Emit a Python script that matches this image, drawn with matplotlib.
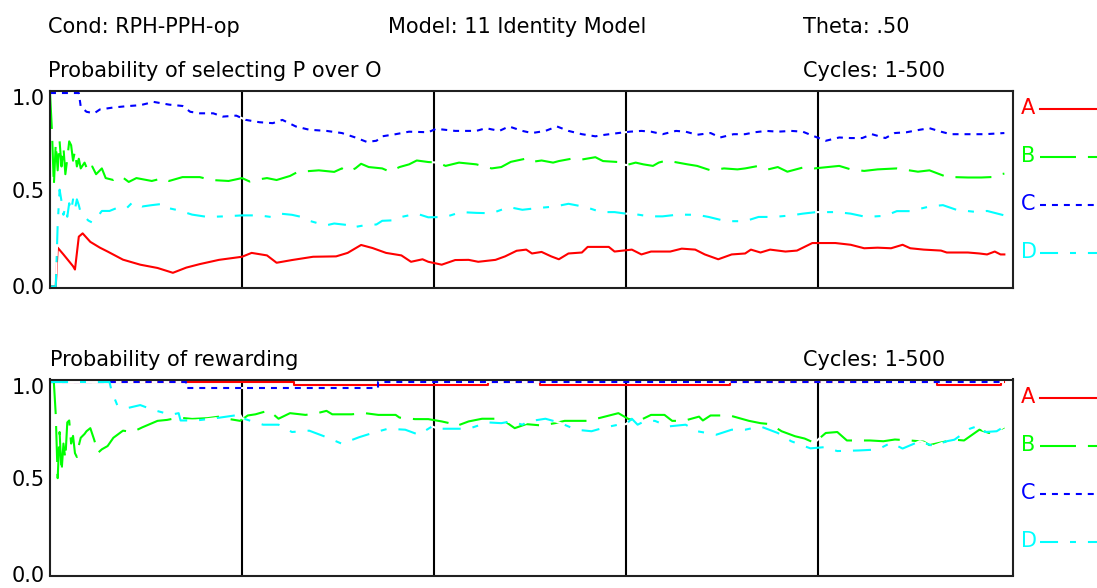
import matplotlib
matplotlib.use("Agg")
import matplotlib.pyplot as plt
import matplotlib.transforms as mtransforms
from matplotlib.lines import Line2D

W, H = 1097, 588
plt.rcParams['font.family'] = ['DejaVu Sans']
plt.rcParams['lines.scale_dashes'] = False

# ---- labels -------------------------------------------------------------
cond_label = "Cond: RPH-PPH-op"
model_label = "Model: 11 Identity Model"
theta_label = "Theta: .50"
cycles_label = "Cycles: 1-500"
top_title = "Probability of selecting P over O"
bottom_title = "Probability of rewarding"

series_names = ["A", "B", "C", "D"]
series_colors = ["#ff0000", "#00ff00", "#0000ff", "#00ffff"]
series_dashes = [None, (25.9, 8.6), (4.3, 4.3), (13.0, 8.6, 4.3, 8.6)]

y_ticks = [0.0, 0.5, 1.0]
y_tick_labels = ["0.0", "0.5", "1.0"]
cycle_marks = [100, 200, 300, 400]
cycle_range = (0, 501.5)

# ---- probability of selecting P over O ----------------------------------
sel_a_cycles = [0, 3, 4, 7, 12, 13, 15, 17, 21, 26, 30, 38, 47, 56, 64, 71, 78, 88,
                100, 105, 113, 118, 126, 137, 149, 155, 162, 168, 175, 183, 188, 194,
                197, 204, 211, 218, 223, 232, 237, 243, 248, 251, 256, 261, 265, 270,
                277, 280, 291, 294, 303, 308, 313, 323, 329, 336, 341, 348, 355, 362,
                365, 370, 375, 383, 389, 397, 409, 417, 424, 431, 438, 444, 448, 455,
                464, 467, 478, 484, 488, 492, 495, 497]
sel_a_values = [0.0, 0.0, 0.20, 0.165, 0.104, 0.087, 0.257, 0.274, 0.23, 0.20, 0.18,
                0.138, 0.112, 0.095, 0.07, 0.097, 0.115, 0.137,
                0.153, 0.173, 0.16, 0.122, 0.136, 0.153, 0.155, 0.173, 0.214, 0.198,
                0.173, 0.16, 0.127, 0.14, 0.127, 0.112, 0.136, 0.137, 0.127, 0.137,
                0.155, 0.184, 0.19, 0.17, 0.178, 0.155, 0.14, 0.17, 0.175, 0.204,
                0.204, 0.18, 0.19, 0.165, 0.18, 0.18, 0.195, 0.19, 0.165, 0.14,
                0.165, 0.17, 0.19, 0.175, 0.19, 0.18, 0.185, 0.224, 0.224, 0.215,
                0.197, 0.2, 0.197, 0.215, 0.197, 0.19, 0.185, 0.175, 0.175, 0.17,
                0.165, 0.18, 0.165, 0.165]

sel_b_cycles = [0, 1, 2, 3, 4, 5, 6, 7, 8, 9, 10, 11, 12, 13, 14, 15, 16, 18, 20, 22,
                24, 27, 29, 33, 37, 41, 45, 53, 59, 62, 69, 78, 84, 93, 100, 104, 108,
                113, 118, 125, 129, 136, 140, 148, 152, 155, 159, 162, 166, 173, 177,
                182, 187, 191, 197, 202, 206, 213, 222, 230, 235, 240, 248, 251, 256,
                262, 265, 272, 277, 284, 288, 296, 300, 305, 309, 314, 317, 321, 327,
                332, 337, 344, 351, 358, 362, 369, 374, 379, 384, 393, 398, 405, 411,
                417, 424, 431, 441, 452, 458, 467, 478, 485, 492, 495, 497]
sel_b_values = [1.0, 0.81, 0.52, 0.74, 0.60, 0.75, 0.62, 0.72, 0.58, 0.66, 0.75, 0.73,
                0.65, 0.70, 0.62, 0.66, 0.61, 0.64, 0.59, 0.62, 0.58, 0.61, 0.56,
                0.55, 0.57, 0.54, 0.56, 0.545, 0.56, 0.545, 0.565, 0.565, 0.55,
                0.545, 0.56, 0.542, 0.552, 0.56, 0.55, 0.571, 0.592, 0.597, 0.60,
                0.592, 0.61, 0.593, 0.61, 0.634, 0.617, 0.61, 0.593, 0.617, 0.631,
                0.651, 0.643, 0.64, 0.623, 0.64, 0.631, 0.61, 0.617, 0.644, 0.661,
                0.644, 0.651, 0.64, 0.648, 0.661, 0.656, 0.668, 0.648, 0.643, 0.627,
                0.64, 0.631, 0.623, 0.64, 0.651, 0.64, 0.631, 0.623, 0.60, 0.61,
                0.605, 0.61, 0.623, 0.605, 0.617, 0.593, 0.617, 0.61, 0.617, 0.623,
                0.605, 0.597, 0.605, 0.61, 0.593, 0.60, 0.566, 0.563, 0.563, 0.566,
                0.58, 0.583]

sel_c_cycles = [0, 15, 16, 19, 23, 26, 33, 40, 47, 54, 62, 69, 73, 78, 85, 90, 97,
                102, 109, 116, 121, 128, 135, 144, 152, 159, 165, 170, 173, 180, 187,
                197, 201, 211, 222, 227, 234, 239, 246, 251, 258, 264, 270, 277, 284,
                289, 296, 302, 308, 313, 319, 326, 331, 337, 344, 349, 356, 362, 367,
                373, 379, 386, 392, 398, 404, 411, 417, 423, 428, 435, 440, 446, 453,
                458, 464, 469, 478, 487, 497]
sel_c_values = [1.0, 1.0, 0.93, 0.903, 0.895, 0.915, 0.925, 0.932, 0.937, 0.954, 0.94,
                0.933, 0.903, 0.895, 0.895, 0.878, 0.883, 0.861, 0.849, 0.844, 0.861,
                0.827, 0.81, 0.804, 0.793, 0.77, 0.747, 0.753, 0.776, 0.787, 0.80,
                0.797, 0.815, 0.804, 0.804, 0.818, 0.804, 0.827, 0.804, 0.793, 0.804,
                0.827, 0.804, 0.787, 0.776, 0.784, 0.793, 0.80, 0.804, 0.80, 0.787,
                0.804, 0.80, 0.784, 0.793, 0.77, 0.787, 0.787, 0.797, 0.804, 0.80,
                0.804, 0.80, 0.776, 0.753, 0.77, 0.767, 0.767, 0.787, 0.767, 0.793,
                0.797, 0.81, 0.818, 0.80, 0.787, 0.787, 0.787, 0.793]

sel_d_cycles = [0, 3, 4, 5, 6, 7, 8, 9, 10, 11, 12, 13, 14, 15, 16, 18, 20, 22, 24, 27,
                31, 36, 40, 43, 48, 53, 59, 61, 67, 74, 82, 91, 100, 109, 115, 120, 126,
                131, 134, 140, 144, 148, 156, 157, 164, 170, 173, 180, 183, 191, 197,
                206, 214, 222, 230, 239, 246, 254, 263, 270, 279, 287, 294, 300, 303,
                312, 319, 327, 337, 343, 352, 362, 369, 377, 386, 392, 399, 410, 417,
                425, 435, 441, 448, 458, 465, 472, 483, 488, 497]
sel_d_values = [0.0, 0.0, 0.32, 0.50, 0.44, 0.37, 0.41, 0.36, 0.43, 0.39, 0.45, 0.40,
                0.45, 0.42, 0.38, 0.36, 0.34, 0.33, 0.35, 0.39, 0.39, 0.41, 0.405,
                0.435, 0.413, 0.42, 0.427, 0.406, 0.393, 0.371, 0.359, 0.362, 0.367,
                0.367, 0.359, 0.376, 0.37, 0.359, 0.342, 0.325, 0.316, 0.325, 0.316,
                0.304, 0.316, 0.32, 0.339, 0.342, 0.359, 0.376, 0.357, 0.359, 0.384,
                0.38, 0.378, 0.41, 0.396, 0.405, 0.413, 0.427, 0.41, 0.384, 0.384,
                0.376, 0.376, 0.362, 0.362, 0.371, 0.37, 0.359, 0.337, 0.337, 0.359,
                0.359, 0.367, 0.376, 0.384, 0.384, 0.376, 0.359, 0.365, 0.389, 0.389,
                0.413, 0.42, 0.396, 0.384, 0.39, 0.367]

# ---- probability of rewarding ---------------------------------------------
rew_a_cycles = [0, 127, 228, 255, 354, 462, 495, 497]
rew_a_values = [1.0, 0.985, 1.0, 0.985, 1.0, 0.985, 1.0, 1.0]

rew_b_cycles = [0, 2, 3, 4, 5, 6, 7, 8, 9, 10, 11, 12, 13, 14, 15, 16, 18, 19, 21, 23,
                25, 27, 30, 33, 38, 43, 48, 56, 61, 67, 74, 82, 88, 93, 99, 103, 107,
                114, 119, 125, 133, 138, 144, 147, 157, 164, 171, 180, 182, 190, 197,
                204, 208, 211, 218, 225, 232, 237, 242, 248, 256, 263, 268, 280, 287,
                296, 301, 306, 313, 320, 324, 330, 338, 340, 344, 354, 364, 370, 375,
                381, 388, 393, 398, 404, 410, 415, 422, 427, 434, 440, 448, 455, 458,
                466, 471, 476, 484, 489, 493, 497]
rew_b_values = [1.0, 1.0, 0.83, 0.50, 0.74, 0.53, 0.68, 0.60, 0.79, 0.80, 0.68, 0.72,
                0.63, 0.61, 0.67, 0.71, 0.73, 0.744, 0.76, 0.70, 0.632, 0.65, 0.667,
                0.71, 0.747, 0.74, 0.764, 0.798, 0.803, 0.815, 0.808, 0.812, 0.82,
                0.808, 0.798, 0.826, 0.832, 0.852, 0.809, 0.838, 0.829, 0.835, 0.85,
                0.832, 0.832, 0.838, 0.829, 0.829, 0.815, 0.807, 0.807, 0.795, 0.786,
                0.769, 0.795, 0.809, 0.809, 0.795, 0.76, 0.781, 0.774, 0.786, 0.798,
                0.798, 0.815, 0.838, 0.809, 0.795, 0.829, 0.829, 0.798, 0.798, 0.82,
                0.80, 0.826, 0.826, 0.798, 0.786, 0.781, 0.744, 0.718, 0.706, 0.684,
                0.735, 0.74, 0.696, 0.696, 0.696, 0.692, 0.701, 0.696, 0.69, 0.672,
                0.69, 0.70, 0.696, 0.752, 0.735, 0.744, 0.764]

rew_c_cycles = [0, 71, 171, 497]
rew_c_values = [1.0, 0.968, 1.0, 1.0]

rew_d_cycles = [0, 31, 32, 35, 41, 47, 54, 63, 67, 68, 76, 85, 92, 99, 100, 111, 119,
                126, 135, 144, 152, 161, 168, 176, 185, 192, 199, 202, 209, 218, 228,
                235, 240, 246, 249, 258, 265, 274, 282, 289, 296, 300, 303, 306, 310,
                315, 322, 331, 337, 347, 355, 362, 370, 379, 386, 396, 403, 410, 421,
                431, 438, 444, 453, 460, 467, 471, 479, 484, 487, 493, 497]
rew_d_values = [1.0, 1.0, 0.956, 0.88, 0.866, 0.88, 0.854, 0.83, 0.838, 0.80, 0.80,
                0.81, 0.82, 0.83, 0.812, 0.778, 0.778, 0.74, 0.747, 0.713, 0.679,
                0.713, 0.735, 0.757, 0.752, 0.726, 0.769, 0.757, 0.757, 0.757, 0.79,
                0.786, 0.795, 0.778, 0.795, 0.809, 0.79, 0.752, 0.744, 0.764, 0.778,
                0.781, 0.809, 0.778, 0.798, 0.798, 0.769, 0.778, 0.744, 0.726, 0.752,
                0.752, 0.769, 0.735, 0.692, 0.655, 0.661, 0.641, 0.644, 0.649, 0.684,
                0.654, 0.692, 0.667, 0.692, 0.70, 0.757, 0.774, 0.74, 0.744, 0.769]

selection_series = [(sel_a_cycles, sel_a_values), (sel_b_cycles, sel_b_values),
                    (sel_c_cycles, sel_c_values), (sel_d_cycles, sel_d_values)]
reward_series = [(rew_a_cycles, rew_a_values), (rew_b_cycles, rew_b_values),
                 (rew_c_cycles, rew_c_values), (rew_d_cycles, rew_d_values)]
reward_steps = [True, False, True, False]

LW = 1.5
FS = 15


def px_box(left, top, right, bottom):
    return [left / W, 1 - bottom / H, (right - left) / W, (bottom - top) / H]


def style_line(line, dash):
    if dash is not None:
        line.set_dashes(dash)
        line.set_gapcolor("white")


fig = plt.figure(figsize=(W / 100, H / 100), dpi=100)
fig.patch.set_facecolor("white")


def fig_text(x, y, s, color="black", **kw):
    fig.text(x / W, 1 - y / H, s, fontsize=FS, color=color, **kw)


def panel(box, series, steps, legend_top):
    ax = fig.add_axes(px_box(*box))
    ax.set_xlim(*cycle_range)
    ax.set_ylim(-0.006, 1.013)
    ax.set_xticks([])
    ax.set_yticks(y_ticks)
    ax.set_yticklabels(y_tick_labels, fontsize=FS)
    ax.tick_params(axis="y", length=0, pad=4)
    # the 1.0 label sits a little below its tick
    top_lbl = ax.get_yticklabels()[-1]
    top_lbl.set_transform(top_lbl.get_transform() +
                          mtransforms.ScaledTranslation(0, -0.04, fig.dpi_scale_trans))
    for sp in ax.spines.values():
        sp.set_linewidth(1.5)
        sp.set_color("#202020")
        sp.set_zorder(5)
    for c in cycle_marks:
        ax.axvline(c, color="black", lw=1.5, zorder=1)
    for (cx, vy), color, dash, step in zip(series, series_colors, series_dashes, steps):
        line, = ax.plot(cx, vy, color=color, lw=LW, zorder=2,
                        drawstyle="steps-post" if step else "default")
        style_line(line, dash)
    # key on the right-hand side
    for i, (name, color, dash) in enumerate(zip(series_names, series_colors, series_dashes)):
        y = legend_top + i * 48
        fig_text(1021, y, name, color=color, va="center", ha="left")
        key = Line2D([1040 / W, 1100 / W], [1 - (y + 1) / H] * 2,
                     transform=fig.transFigure, color=color, lw=LW)
        style_line(key, dash)
        fig.add_artist(key)
    return ax


fig_text(48, 33, cond_label, va="baseline")
fig_text(388, 33, model_label, va="baseline")
fig_text(803, 33, theta_label, va="baseline")
fig_text(48, 77, top_title, va="baseline")
fig_text(803, 77, cycles_label, va="baseline")
fig_text(50, 366, bottom_title, va="baseline")
fig_text(803, 366, cycles_label, va="baseline")

panel((50, 90.5, 1013, 287.5), selection_series, [False] * 4, 108)
panel((50, 379.5, 1013, 575.5), reward_series, reward_steps, 397)

fig.savefig("out.png", dpi=100, facecolor="white")
